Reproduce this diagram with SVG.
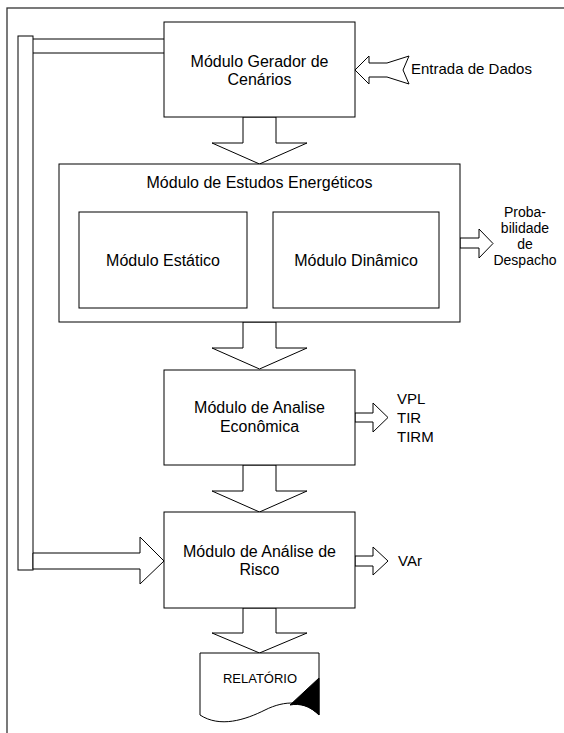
<svg xmlns="http://www.w3.org/2000/svg" width="564" height="733" viewBox="0 0 564 733">
<style>
.box{fill:#fff;stroke:#000;stroke-width:1}
.arr{fill:#fff;stroke:#000;stroke-width:1;stroke-linejoin:miter}
.t{font-family:"Liberation Sans",Arial,sans-serif;font-size:16px;fill:#000}
.s{font-family:"Liberation Sans",Arial,sans-serif;font-size:14px;fill:#000}
.m{font-family:"Liberation Sans",Arial,sans-serif;font-size:15px;fill:#000}
</style>
<rect x="7" y="8" width="600" height="800" fill="#fff" stroke="#333" stroke-width="1.3"/>
<g id="connectors">
  <rect x="18" y="36" width="15" height="534" class="box"/>
  <line x1="33" y1="39" x2="164" y2="39" stroke="#000"/>
  <line x1="33" y1="53" x2="164" y2="53" stroke="#000"/>
  <polygon class="arr" points="33,553 140,553 140,537 164,561 140,584 140,569 33,569"/>
  <polygon class="arr" points="355,70 369,56 369,63 387,63 409,56 403,70 409,84 387,77 369,77 369,84"/>
  <polygon class="arr" points="243,117 276,117 276,143 307,143 259.5,164 212,143 243,143"/>
  <polygon class="arr" points="243,322 276,322 276,348 307,348 259.5,369 212,348 243,348"/>
  <polygon class="arr" points="243,465 276,465 276,491 307,491 259.5,512 212,491 243,491"/>
  <polygon class="arr" points="243,608 276,608 276,633 307,633 259.5,653 212,633 243,633"/>
  <polygon class="arr" points="460,238 479,238 479,229 493,243.5 479,258 479,248 460,248"/>
  <polygon class="arr" points="355,413 373,413 373,403 388,417.5 373,432 373,422 355,422"/>
  <polygon class="arr" points="355,556 373,556 373,547 388,561 373,575 373,566 355,566"/>
</g>
<g id="gerador">
  <rect x="164" y="22" width="191" height="95" class="box"/>
  <text class="t" x="259.5" y="66.5" text-anchor="middle">Módulo Gerador de</text>
  <text class="t" x="259.5" y="85" text-anchor="middle">Cenários</text>
</g>
<g id="entrada">
  <text class="m" x="411" y="74">Entrada de Dados</text>
</g>
<g id="estudos">
  <rect x="59" y="164" width="401" height="158" class="box"/>
  <text class="t" x="259.5" y="188" text-anchor="middle">Módulo de Estudos Energéticos</text>
</g>
<g id="estatico">
  <rect x="79" y="212" width="168" height="96" class="box"/>
  <text class="t" x="163" y="266" text-anchor="middle">Módulo Estático</text>
</g>
<g id="dinamico">
  <rect x="273" y="212" width="166" height="96" class="box"/>
  <text class="t" x="356" y="266" text-anchor="middle">Módulo Dinâmico</text>
</g>
<g id="probabilidade">
  <text class="s" x="525" y="217" text-anchor="middle">Proba-</text>
  <text class="s" x="525" y="233" text-anchor="middle">bilidade</text>
  <text class="s" x="525" y="249" text-anchor="middle">de</text>
  <text class="s" x="525" y="265" text-anchor="middle">Despacho</text>
</g>
<g id="economica">
  <rect x="164" y="370" width="191" height="95" class="box"/>
  <text class="t" x="259.5" y="413" text-anchor="middle">Módulo de Analise</text>
  <text class="t" x="259.5" y="432" text-anchor="middle">Econômica</text>
</g>
<g id="indicadores">
  <text class="m" x="397" y="404">VPL</text>
  <text class="m" x="397" y="423">TIR</text>
  <text class="m" x="397" y="442">TIRM</text>
</g>
<g id="risco">
  <rect x="164" y="512" width="191" height="96" class="box"/>
  <text class="t" x="259.5" y="557" text-anchor="middle">Módulo de Análise de</text>
  <text class="t" x="259.5" y="575" text-anchor="middle">Risco</text>
</g>
<g id="var">
  <text class="m" x="398" y="566">VAr</text>
</g>
<g id="relatorio">
  <path class="box" d="M200,653 L319,653 L319,715 C305,700 285,700 265,710 C245,720 220,728 200,715 Z"/>
  <path d="M319,678 L290,705 C300,703 310,706 319,715 Z" fill="#000" stroke="#000"/>
  <text x="260" y="683" text-anchor="middle" font-family="Liberation Sans, Arial, sans-serif" font-size="13">RELATÓRIO</text>
</g>
</svg>
